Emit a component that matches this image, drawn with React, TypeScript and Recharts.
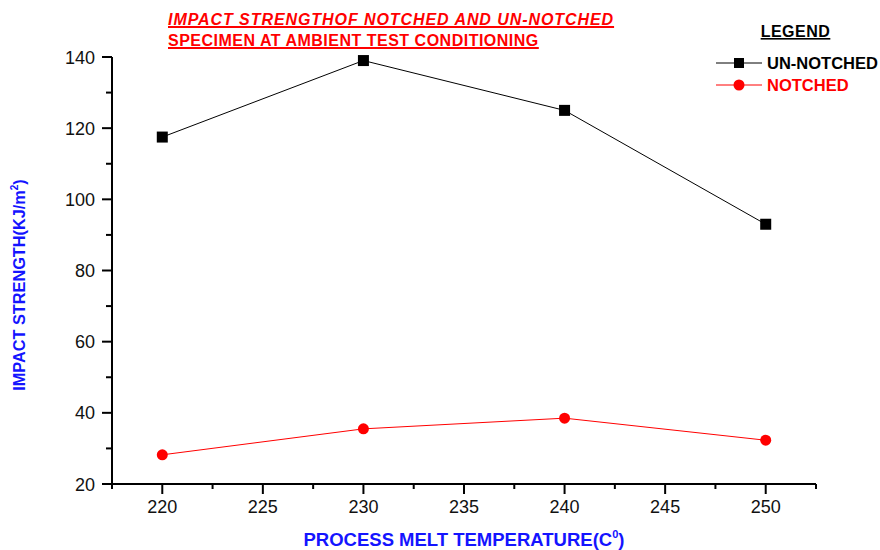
import { LineChart, Line, XAxis, YAxis, Legend } from 'recharts';

// Process melt temperature (C) vs impact strength (KJ/m2)
const temps = [220, 230, 240, 250];
const unNotched = [117.5, 139, 125, 93];
const notched = [28.2, 35.5, 38.5, 32.3];

const xTicks = [217.5, 220, 222.5, 225, 227.5, 230, 232.5, 235, 237.5, 240, 242.5, 245, 247.5, 250, 252.5];
const yTicks = [20, 30, 40, 50, 60, 70, 80, 90, 100, 110, 120, 130, 140];
const legendOrder = ['unNotched', 'notched'];

const FONT = '"Liberation Sans", Arial, sans-serif';
const BLUE = '#1414ff';
const RED = '#ff0000';

const data = temps.map((t, i) => ({ temp: t, unNotched: unNotched[i], notched: notched[i] }));

function XTick({ x, y, payload }: any) {
  const major = payload.value % 5 === 0;
  return (
    <g>
      <line x1={x} y1={y} x2={x} y2={y + (major ? 10 : 5)} stroke="#000" strokeWidth={2} />
      {major && (
        <text x={x} y={y + 29} textAnchor="middle" fontSize={18} fill="#111" fontFamily={FONT}>
          {payload.value}
        </text>
      )}
    </g>
  );
}

function YTick({ x, y, payload }: any) {
  const major = payload.value % 20 === 0;
  return (
    <g>
      <line x1={x - (major ? 10 : 6)} y1={y} x2={x} y2={y} stroke="#000" strokeWidth={2} />
      {major && (
        <text x={x - 17} y={y + 6.5} textAnchor="end" fontSize={18} fill="#111" fontFamily={FONT}>
          {payload.value}
        </text>
      )}
    </g>
  );
}

function XTitle() {
  return (
    <text x={464} y={546} textAnchor="middle" fontSize={18.5} fontWeight="bold" fill={BLUE} fontFamily={FONT}>
      PROCESS MELT TEMPERATURE(C
      <tspan dy={-8} fontSize={11}>0</tspan>
      <tspan dy={8}>)</tspan>
    </text>
  );
}

function YTitle() {
  return (
    <text
      x={25}
      y={285}
      transform="rotate(-90, 25, 285)"
      textAnchor="middle"
      fontSize={16.3}
      fontWeight="bold"
      fill={BLUE}
      fontFamily={FONT}
    >
      IMPACT STRENGTH(KJ/m
      <tspan dy={-7} fontSize={10}>2</tspan>
      <tspan dy={7}>)</tspan>
    </text>
  );
}

function LegendBox({ payload }: any) {
  const items = [...(payload || [])].sort(
    (a: any, b: any) => legendOrder.indexOf(a.dataKey) - legendOrder.indexOf(b.dataKey)
  );
  return (
    <svg width={180} height={100} style={{ display: 'block' }}>
      <text
        x={95.5}
        y={37}
        textAnchor="middle"
        fontSize={16}
        fontWeight="bold"
        letterSpacing={0.5}
        textDecoration="underline"
        fill="#000"
        fontFamily={FONT}
      >
        LEGEND
      </text>
      {items.map((p: any, i: number) => {
        const cy = 63 + i * 22;
        return (
          <g key={p.value}>
            <line x1={16} y1={cy} x2={62} y2={cy} stroke={p.color} strokeWidth={1} />
            {p.dataKey === 'unNotched' ? (
              <rect x={34} y={cy - 5} width={10} height={10} fill={p.color} />
            ) : (
              <circle cx={39} cy={cy} r={5.5} fill={p.color} />
            )}
            <text x={67} y={cy + 6} fontSize={16.5} fontWeight="bold" fill={p.color} fontFamily={FONT}>
              {p.value}
            </text>
          </g>
        );
      })}
    </svg>
  );
}

export default function App() {
  return (
    <div style={{ position: 'absolute', left: 0, top: 0, width: 880, height: 550, background: '#fff', fontFamily: FONT }}>
      <div
        style={{
          position: 'absolute',
          left: 168,
          top: 9,
          color: RED,
          fontWeight: 'bold',
          fontSize: 16,
          lineHeight: '21px',
          textDecoration: 'underline',
          textDecorationThickness: 2,
          zIndex: 2,
        }}
      >
        <div style={{ fontStyle: 'italic', letterSpacing: 0.93 }}>IMPACT STRENGTHOF NOTCHED AND UN-NOTCHED</div>
        <div style={{ letterSpacing: 0.5 }}>SPECIMEN AT AMBIENT TEST CONDITIONING</div>
      </div>
      <LineChart width={880} height={550} data={data} margin={{ top: 57, right: 64, left: 0, bottom: 0 }}>
        <XAxis
          dataKey="temp"
          type="number"
          domain={[217.5, 252.5]}
          ticks={xTicks}
          interval={0}
          height={66}
          tickSize={0}
          tickMargin={0}
          tickLine={false}
          axisLine={{ stroke: '#000', strokeWidth: 2 }}
          tick={<XTick />}
          label={<XTitle />}
        />
        <YAxis
          type="number"
          domain={[20, 140]}
          ticks={yTicks}
          interval={0}
          width={112}
          tickSize={0}
          tickMargin={0}
          tickLine={false}
          axisLine={{ stroke: '#000', strokeWidth: 2 }}
          tick={<YTick />}
          label={<YTitle />}
        />
        <Legend
          layout="horizontal"
          verticalAlign="middle"
          align="center"
          wrapperStyle={{ position: 'absolute', left: 700, top: 0, width: 180, height: 100 }}
          content={<LegendBox />}
        />
        <Line
          name="UN-NOTCHED"
          dataKey="unNotched"
          stroke="#000"
          strokeWidth={1}
          isAnimationActive={false}
          dot={(props: any) => (
            <rect key={`sq-${props.index}`} x={props.cx - 5.5} y={props.cy - 5.5} width={11} height={11} fill="#000" />
          )}
          activeDot={false}
        />
        <Line
          name="NOTCHED"
          dataKey="notched"
          stroke={RED}
          strokeWidth={1}
          isAnimationActive={false}
          dot={{ r: 5.5, fill: RED, stroke: RED, strokeWidth: 0 }}
          activeDot={false}
        />
      </LineChart>
    </div>
  );
}
